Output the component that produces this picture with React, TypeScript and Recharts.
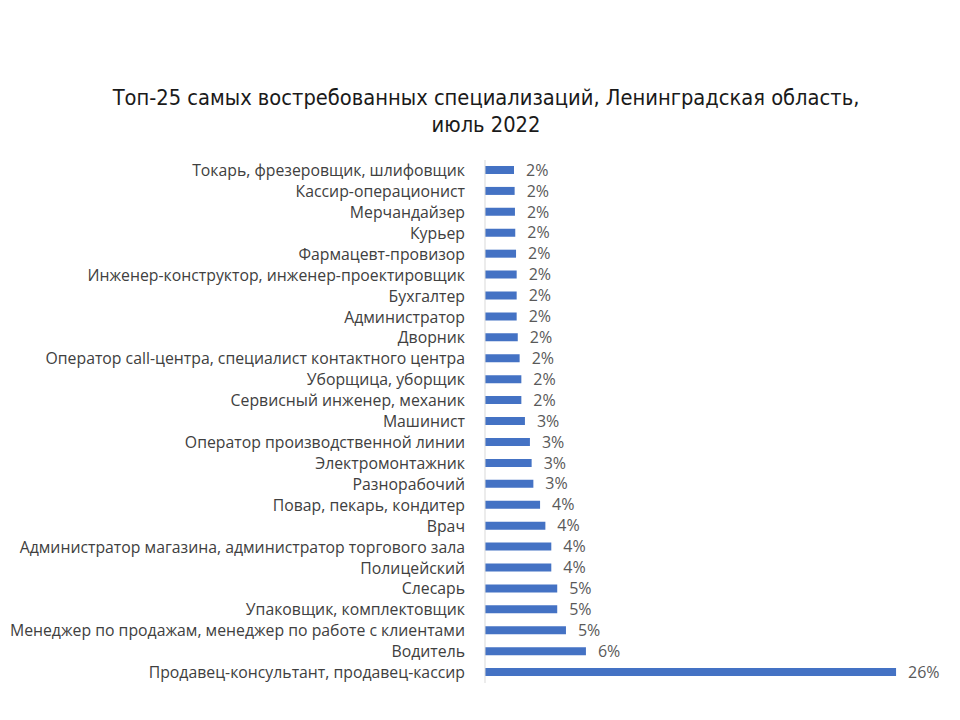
import React from "react";
import { BarChart, Bar, XAxis, YAxis, LabelList } from "recharts";

const categories = [
  "Токарь, фрезеровщик, шлифовщик",
  "Кассир-операционист",
  "Мерчандайзер",
  "Курьер",
  "Фармацевт-провизор",
  "Инженер-конструктор, инженер-проектировщик",
  "Бухгалтер",
  "Администратор",
  "Дворник",
  "Оператор call-центра, специалист контактного центра",
  "Уборщица, уборщик",
  "Сервисный инженер, механик",
  "Машинист",
  "Оператор производственной линии",
  "Электромонтажник",
  "Разнорабочий",
  "Повар, пекарь, кондитер",
  "Врач",
  "Администратор магазина, администратор торгового зала",
  "Полицейский",
  "Слесарь",
  "Упаковщик, комплектовщик",
  "Менеджер по продажам, менеджер по работе с клиентами",
  "Водитель",
  "Продавец-консультант, продавец-кассир",
];

const shares = [
  1.86, 1.9, 1.92, 1.94, 1.99, 2.03, 2.03, 2.03, 2.1, 2.22, 2.33, 2.33, 2.56,
  2.88, 2.99, 3.1, 3.53, 3.87, 4.25, 4.25, 4.63, 4.63, 5.19, 6.47, 26.35,
];

const titleLines = [
  "Топ-25 самых востребованных специализаций, Ленинградская область,",
  "июль 2022",
];

const data = categories.map((name, i) => ({ name, value: shares[i] }));

export default function App() {
  return (
    <div style={{ position: "absolute", left: 0, top: 0, width: 960, height: 720, background: "#fff" }}>
      <div
        style={{
          position: "absolute",
          left: 0,
          width: 972,
          top: 84,
          textAlign: "center",
          fontFamily: "'Liberation Sans Narrow', 'DejaVu Sans Condensed', sans-serif",
          fontSize: 21.7,
          lineHeight: "27px",
          color: "#1a1a1a",
        }}
      >
        {titleLines.map((t, i) => (
          <div key={i}>{t}</div>
        ))}
      </div>
      <BarChart
        width={960}
        height={720}
        layout="vertical"
        data={data}
        margin={{ top: 160, right: 7, bottom: 37, left: 0 }}
        barCategoryGap="60%"
      >
        <XAxis type="number" domain={[0, 30]} hide />
        <YAxis
          type="category"
          dataKey="name"
          width={485}
          interval={0}
          tickLine={false}
          tickSize={0}
          tickMargin={20}
          axisLine={{ stroke: "#d9d9d9" }}
          tick={{ fill: "#404040", fontSize: 15.8, fontFamily: "'Open Sans', sans-serif" }}
        />
        <Bar dataKey="value" fill="#4472c4" barSize={8} isAnimationActive={false}>
          <LabelList
            dataKey="value"
            position="right"
            offset={12}
            formatter={(v: number) => `${Math.round(v)}%`}
            style={{ fill: "#595959", fontSize: 16, fontFamily: "'Open Sans', sans-serif" }}
          />
        </Bar>
      </BarChart>
    </div>
  );
}
